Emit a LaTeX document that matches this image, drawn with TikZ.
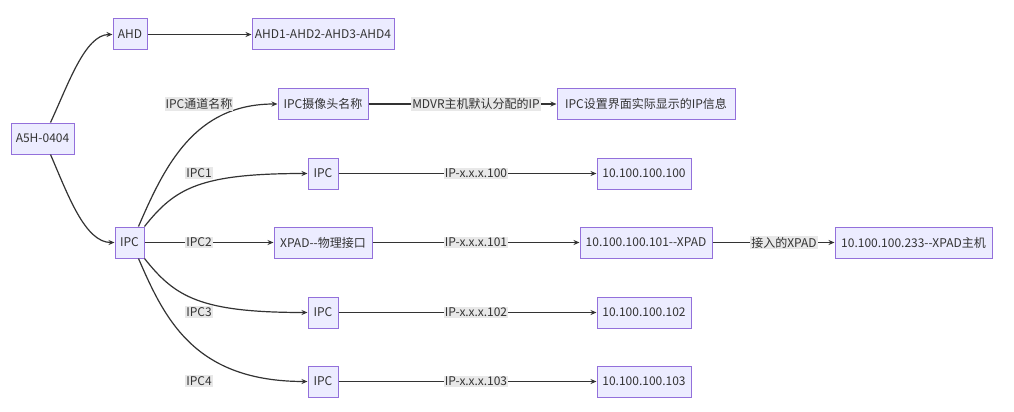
\documentclass[tikz,border=0pt]{standalone}
\usepackage{fontspec}
\setmainfont{Noto Sans CJK SC}
\usetikzlibrary{arrows.meta}
\definecolor{boxfill}{HTML}{ECECFF}
\definecolor{boxline}{HTML}{9370DB}
\definecolor{txt}{HTML}{333333}
\definecolor{edge}{HTML}{333333}
\definecolor{lblfill}{HTML}{E8E8E8}
\newcommand{\dd}{-\kern0pt-}
\tikzset{
  box/.style={draw=boxline, fill=boxfill, line width=1pt, minimum height=31pt, inner sep=0pt, text=txt, font=\fontsize{12}{14}\selectfont},
  lbl/.style={fill=lblfill, inner sep=1pt, text=txt, font=\fontsize{12}{14}\selectfont},
  conn/.style={draw=edge, line width=1.2pt, -{Stealth[length=6pt,width=5pt]}},
}
\begin{document}
\begin{tikzpicture}[x=1pt,y=-1pt]
\path[fill=white,use as bounding box] (0,0) rectangle (1014,412);
% nodes
\node[box, minimum width=63pt] (a5h) at (42.5,138.5) {A5H-0404};
\node[box, minimum width=34pt] (ahd) at (130,34.5) {AHD};
\node[box, minimum width=142pt] (ahdall) at (323,34.5) {AHD1-AHD2-AHD3-AHD4};
\node[box, minimum width=29pt] (ipc) at (129.5,242.5) {IPC};
\node[box, minimum width=90pt] (cam) at (323,104) {IPC摄像头名称};
\node[box, minimum width=178pt] (set) at (646,104) {IPC设置界面实际显示的IP信息};
\node[box, minimum width=30pt] (ipc1) at (323,173.5) {IPC};
\node[box, minimum width=94pt] (ip100) at (644,173.5) {10.100.100.100};
\node[box, minimum width=98pt] (xpad) at (323,242.5) {XPAD\dd 物理接口};
\node[box, minimum width=132pt] (ip101) at (646,242.5) {10.100.100.101\dd XPAD};
\node[box, minimum width=157pt] (host) at (913.5,242.5) {10.100.100.233\dd XPAD主机};
\node[box, minimum width=30pt] (ipc3) at (323,312.5) {IPC};
\node[box, minimum width=94pt] (ip102) at (644,312.5) {10.100.100.102};
\node[box, minimum width=30pt] (ipc4) at (323,381.5) {IPC};
\node[box, minimum width=94pt] (ip103) at (644,381.5) {10.100.100.103};
% edges
\draw[conn] ([xshift=8pt]a5h.north) .. controls (68,85) and (85,34.5) .. (ahd.west);
\draw[conn] ([xshift=8pt]a5h.south) .. controls (68,195) and (85,242.5) .. (ipc.west);
\draw[conn] (ahd) -- (ahdall);
\draw[conn] ([xshift=-6pt]ipc.north east) .. controls (165,165) and (195,104) .. (cam.west);
\draw[conn] (ipc.north east) .. controls (175,188) and (200,173.5) .. (ipc1.west);
\draw[conn] (ipc) -- (xpad);
\draw[conn] (ipc.south east) .. controls (175,297) and (200,312.5) .. (ipc3.west);
\draw[conn] ([xshift=-6pt]ipc.south east) .. controls (165,320) and (195,381.5) .. (ipc4.west);
\draw[conn] (cam) -- (set);
\draw[conn] (ipc1) -- (ip100);
\draw[conn] (xpad) -- (ip101);
\draw[conn] (ip101) -- (host);
\draw[conn] (ipc3) -- (ip102);
\draw[conn] (ipc4) -- (ip103);
% labels
\node[lbl] (l0) at (199,104) {IPC通道名称};
\node[lbl] (l1) at (199,173) {IPC1};
\node[lbl] (l2) at (199,242.5) {IPC2};
\node[lbl] (l3) at (199,312) {IPC3};
\node[lbl] (l4) at (199,381) {IPC4};
\node[lbl] (lm) at (476,104) {MDVR主机默认分配的IP};
\node[lbl] (la) at (476,173.5) {IP-x.x.x.100};
\node[lbl] (lb) at (476,242.5) {IP-x.x.x.101};
\node[lbl] (lc) at (476,312.5) {IP-x.x.x.102};
\node[lbl] (ld) at (476,381.5) {IP-x.x.x.103};
\node[lbl] (lx) at (784,242.5) {接入的XPAD};
\end{tikzpicture}
\end{document}
